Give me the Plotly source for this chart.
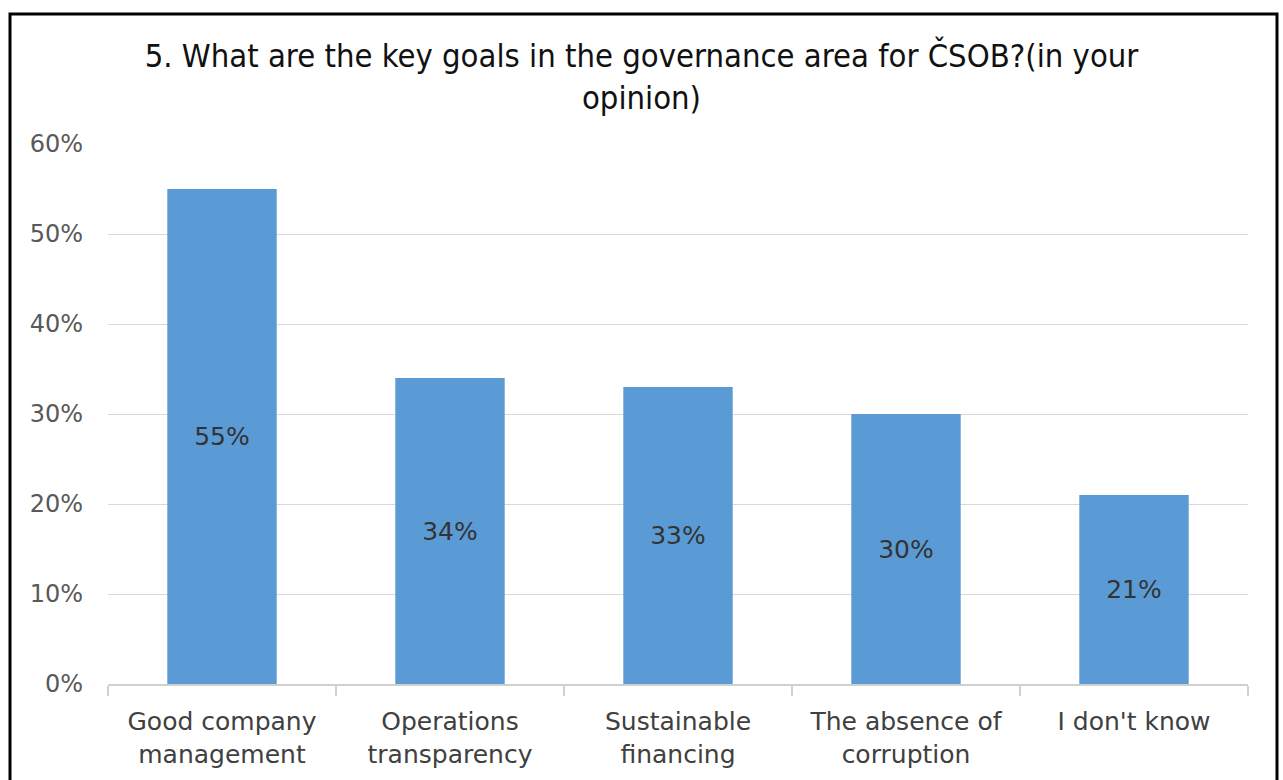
import plotly.graph_objects as go

categories = ["Good company<br>management", "Operations<br>transparency", "Sustainable<br>financing",
              "The absence of<br>corruption", "I don't know"]
shares = [55, 34, 33, 30, 21]
y_ticks = [0, 10, 20, 30, 40, 50, 60]
y_tick_labels = [f"{v}%" for v in y_ticks]

BODY_FONT = "DejaVu Sans, Verdana, sans-serif"

fig = go.Figure(go.Bar(
    x=categories,
    y=shares,
    width=0.48,
    marker=dict(color="#5b9bd5", line=dict(width=0)),
    text=[f"{v}%" for v in shares],
    textposition="inside",
    insidetextanchor="middle",
    textfont=dict(family=BODY_FONT, size=25, color="#333333"),
    textangle=0,
    hoverinfo="skip",
))

fig.update_layout(
    width=1283, height=780,
    margin=dict(l=108, r=35, t=144, b=96),
    paper_bgcolor="white", plot_bgcolor="white",
    showlegend=False,
    title=dict(
        text="5. What are the key goals in the governance area for ČSOB?(in your<br>opinion)",
        x=0.5, xanchor="center", y=0.914, yanchor="top",
        font=dict(family="DejaVu Sans Condensed, Liberation Sans Narrow, sans-serif", size=32.5, color="#111111"),
    ),
)

fig.update_yaxes(
    range=[0, 60],
    tickvals=y_ticks, ticktext=y_tick_labels,
    showgrid=True, gridcolor="#d9d9d9", gridwidth=1,
    zeroline=False, showline=False, ticks="",
    tickfont=dict(family=BODY_FONT, size=24, color="#595959"),
    ticklabelstandoff=24,
)

fig.update_xaxes(
    type="category",
    showline=True, linecolor="#d0d0d0", linewidth=2,
    ticks="outside", tickson="boundaries", ticklen=10, tickcolor="#d0d0d0", tickwidth=2,
    tickfont=dict(family=BODY_FONT, size=25, color="#404040"),
    ticklabelstandoff=14,
    showgrid=False,
)

# Outer frame of the chart
fig.add_shape(type="rect", xref="paper", yref="paper",
              x0=(10 - 108) / 1140, x1=(1277 - 108) / 1140,
              y0=(684 - 800) / 540, y1=(684 - 14) / 540,
              line=dict(color="black", width=3), fillcolor="rgba(0,0,0,0)", layer="above")

fig.write_html("out.html")
